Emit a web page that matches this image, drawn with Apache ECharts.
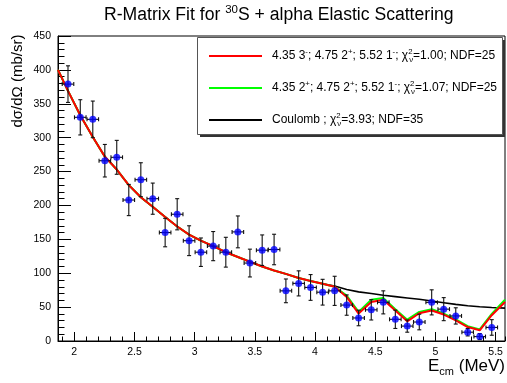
<!DOCTYPE html>
<html><head><meta charset="utf-8">
<script src="https://cdn.jsdelivr.net/npm/echarts@6/dist/echarts.min.js"></script>
<style>html,body{margin:0;padding:0;background:#fff}#c{width:507px;height:383px}</style>
</head><body><div id="c"></div>
<script>
// ---- data ----
const energies = [1.948, 2.05, 2.154, 2.254, 2.353, 2.453, 2.553, 2.652, 2.755, 2.855, 2.954, 3.052,
  3.154, 3.259, 3.359, 3.459, 3.561, 3.66, 3.758, 3.864, 3.963, 4.063, 4.163, 4.263,
  4.362, 4.467, 4.567, 4.667, 4.766, 4.866, 4.969, 5.069, 5.169, 5.268, 5.368, 5.468];
const crossSections = [379, 330, 327, 266, 271, 208, 238, 210, 160, 187, 148, 131,
  140, 131, 161, 115, 134, 135, 74, 85, 79, 72, 74, 53,
  34, 46, 57, 32, 22, 28, 57, 47, 37, 13, 6.5, 20];
const energyErrors = [0.048, 0.048, 0.048, 0.048, 0.048, 0.048, 0.048, 0.048, 0.048, 0.048, 0.048, 0.048,
  0.048, 0.048, 0.048, 0.048, 0.048, 0.048, 0.048, 0.048, 0.048, 0.048, 0.048, 0.048,
  0.048, 0.048, 0.048, 0.048, 0.048, 0.048, 0.048, 0.048, 0.048, 0.048, 0.048, 0.048];
const crossSectionErrors = [27, 26, 27, 24, 25, 23, 25, 23, 21, 23, 22, 21,
  21.5, 22, 23.5, 20.5, 22.5, 22.5, 17.5, 18.5, 19, 19, 21.5, 15,
  11.5, 15, 17, 13.5, 9, 11.5, 18.5, 17, 12, 5.5, 4.5, 11.5];
// curves: left edge, every data energy, right edge
const curveEnergies = [1.865, 1.948, 2.05, 2.154, 2.254, 2.353, 2.453, 2.553, 2.652, 2.755, 2.855, 2.954, 3.052,
  3.154, 3.259, 3.359, 3.459, 3.561, 3.66, 3.758, 3.864, 3.963, 4.063, 4.163, 4.263,
  4.362, 4.467, 4.567, 4.667, 4.766, 4.866, 4.969, 5.069, 5.169, 5.268, 5.368, 5.468, 5.578];
const fitA = [400, 369, 333, 301, 272, 253, 230, 212, 198, 183, 169, 157, 148,
  140, 131, 124, 117, 110, 104, 99, 93, 88.5, 84.5, 80, 65,
  40.5, 57.5, 61, 45, 29, 41, 45, 39, 30.5, 20.6, 15.8, 38, 57.5];
const fitB = [400, 369, 333, 301, 272, 253, 230, 212, 198, 183, 169, 157, 148,
  140, 131, 124, 117, 110, 104, 99, 93, 88.5, 84.5, 80, 67,
  43, 61, 63.5, 47, 31.5, 43, 47, 40.5, 32, 22, 17, 40, 61];
const coulomb = [400, 369, 333, 301, 272, 253, 230, 212, 198, 183, 169, 157, 148,
  140, 131, 124, 117, 110, 104, 99, 93, 88.5, 84.5, 81, 76,
  72.5, 70, 67.5, 65.5, 63.5, 61.5, 59, 56.5, 54, 52, 50.5, 49.5, 48.5];
const seriesNames = ['fitA', 'fitB', 'coulomb'];
const legendLabels = {
  fitA: '4.35 3{sup|-}; 4.75 2{sup|+}; 5.52 1{sup|-}; χ{sup2|2}{sub|ν}=1.00; NDF=25',
  fitB: '4.35 2{sup|+}; 4.75 2{sup|+}; 5.52 1{sup|-}; χ{sup2|2}{sub|ν}=1.07; NDF=25',
  coulomb: 'Coulomb ; χ{sup2|2}{sub|ν}=3.93; NDF=35'
};
const xRange = [1.865, 5.578];
const yRange = [0, 450];

const FONT = '"Liberation Sans", Arial, Helvetica, sans-serif';
const pairs = (xs, ys) => xs.map((x, i) => [x, ys[i]]);

const chart = echarts.init(document.getElementById('c'), null, {renderer: 'canvas'});
const option = {
  animation: false,
  textStyle: {fontFamily: FONT},
  title: {
    text: 'R-Matrix Fit for {sup|30}S + alpha Elastic Scattering',
    left: 104, top: 4, padding: 0,
    textStyle: {fontSize: 17.6, fontWeight: 'normal', color: '#000', lineHeight: 22, fontFamily: FONT,
      rich: {sup: {fontSize: 11.5, lineHeight: 11, verticalAlign: 'top', fontFamily: FONT, color: '#000'}}}
  },
  grid: {left: 58, right: 2, top: 36, bottom: 42, show: true, borderColor: '#000', borderWidth: 1, backgroundColor: 'transparent'},
  xAxis: [{
    type: 'value', min: xRange[0], max: xRange[1], minInterval: 0.5, maxInterval: 0.5, splitNumber: 7,
    axisLine: {show: true, onZero: false, lineStyle: {color: '#000', width: 1}},
    axisTick: {show: true, inside: true, length: 9, lineStyle: {color: '#000'}},
    minorTick: {show: false},
    splitLine: {show: false},
    axisLabel: {fontSize: 10.5, color: '#000', margin: 6, showMinLabel: false, showMaxLabel: false, fontFamily: FONT}
  }, {
    type: 'value', min: xRange[0], max: xRange[1], minInterval: 0.1, maxInterval: 0.1, splitNumber: 37,
    position: 'bottom', offset: 0,
    axisLine: {show: false}, axisLabel: {show: false}, splitLine: {show: false},
    axisTick: {show: true, inside: true, length: 4.5, lineStyle: {color: '#000'}}
  }],
  yAxis: {
    type: 'value', min: yRange[0], max: yRange[1], interval: 50,
    axisLine: {show: true, onZero: false, lineStyle: {color: '#000', width: 1}},
    axisTick: {show: true, inside: true, length: 13, lineStyle: {color: '#000'}},
    minorTick: {show: true, splitNumber: 5, length: 6.5, lineStyle: {color: '#000'}},
    splitLine: {show: false},
    axisLabel: {fontSize: 10.5, color: '#000', margin: 7, fontFamily: FONT}
  },
  legend: {
    orient: 'vertical', left: 209, top: 48, padding: 0,
    itemWidth: 53, itemHeight: 2, itemGap: 16, icon: 'rect', selectedMode: false,
    data: ['fitA', 'fitB', 'coulomb'],
    formatter: name => legendLabels[name],
    textStyle: {fontSize: 12, color: '#000', lineHeight: 16, padding: [0, 0, 0, 5], fontFamily: FONT,
      rich: {
        sup: {fontSize: 7.8, lineHeight: 8, verticalAlign: 'top', fontFamily: FONT, color: '#000'},
        sup2: {fontSize: 7.8, lineHeight: 8, verticalAlign: 'top', width: 1, fontFamily: FONT, color: '#000'},
        sub: {fontSize: 7.8, lineHeight: 8, verticalAlign: 'bottom', fontFamily: FONT, color: '#000'}
      }}
  },
  graphic: [
    {type: 'rect', shape: {x: 200, y: 40, width: 305, height: 97}, style: {fill: '#333'}, z: 0},
    {type: 'rect', shape: {x: 197.5, y: 37.5, width: 305, height: 97}, style: {fill: '#fff', stroke: '#555', lineWidth: 1}, z: 1},
    {type: 'text', x: 18, y: 81, rotation: Math.PI / 2,
      style: {text: 'dσ/dΩ (mb/sr)', fontSize: 15, fontFamily: FONT, fill: '#000', align: 'center', verticalAlign: 'middle'}},
    {type: 'text', x: 505, y: 366,
      style: {text: 'E{sub|cm} (MeV)', fontSize: 17, fontFamily: FONT, fill: '#000', align: 'right', verticalAlign: 'middle',
        lineHeight: 22, rich: {sub: {fontSize: 11, lineHeight: 11, verticalAlign: 'bottom', fontFamily: FONT, fill: '#000'}}}}
  ],
  series: [
    {name: 'coulomb', type: 'line', data: pairs(curveEnergies, coulomb), symbol: 'none', z: 2, clip: true,
      lineStyle: {color: '#000', width: 1.6}, itemStyle: {color: '#000'}},
    {name: 'fitB', type: 'line', data: pairs(curveEnergies, fitB), symbol: 'none', z: 2, clip: true,
      lineStyle: {color: '#00ff00', width: 2}, itemStyle: {color: '#00ff00'}},
    {name: 'fitA', type: 'line', data: pairs(curveEnergies, fitA), symbol: 'none', z: 2, clip: true,
      lineStyle: {color: '#ff0000', width: 2}, itemStyle: {color: '#ff0000'}},
    {name: 'errors', type: 'custom', z: 3, clip: true,
      data: energies.map((e, i) => [e, crossSections[i], energyErrors[i], crossSectionErrors[i]]),
      encode: {x: 0, y: 1},
      renderItem: (params, api) => {
        const x = api.value(0), y = api.value(1), dx = api.value(2), dy = api.value(3);
        const c = api.coord([x, y]);
        const t = api.coord([x, y + dy]), b = api.coord([x, y - dy]);
        const l = api.coord([x - dx, y]), r = api.coord([x + dx, y]);
        const st = {stroke: '#111', lineWidth: 1.1};
        const cap = 2;
        const ln = (x1, y1, x2, y2) => ({type: 'line', shape: {x1, y1, x2, y2}, style: st});
        return {type: 'group', children: [
          ln(c[0], t[1], c[0], b[1]),
          ln(c[0] - cap, t[1], c[0] + cap, t[1]),
          ln(c[0] - cap, b[1], c[0] + cap, b[1]),
          ln(l[0], c[1], r[0], c[1]),
          ln(l[0], c[1] - cap, l[0], c[1] + cap),
          ln(r[0], c[1] - cap, r[0], c[1] + cap)
        ]};
      }},
    {name: 'data', type: 'scatter', z: 4, data: pairs(energies, crossSections), symbol: 'circle', symbolSize: 7,
      itemStyle: {color: '#0000ff'}}
  ]
};
chart.setOption(option);
</script></body></html>
